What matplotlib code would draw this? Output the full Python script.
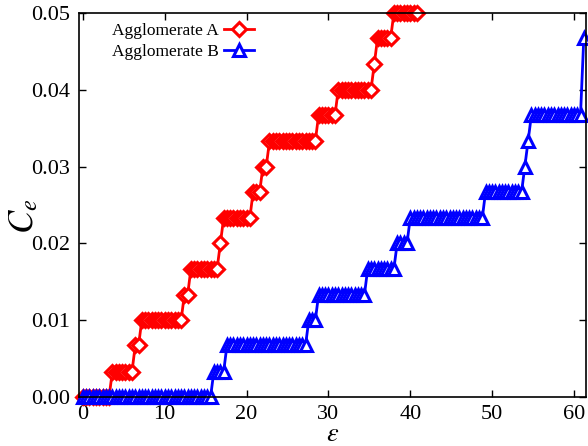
import matplotlib
matplotlib.use("Agg")
import matplotlib.pyplot as plt
import numpy as np

plt.rcParams['font.family'] = ['Liberation Serif', 'DejaVu Serif']
plt.rcParams['mathtext.fontset'] = 'stix'

# strain sampling step
eps_step = 0.4

# Agglomerate A: Ce level of each plateau and number of samples on it
a_levels = [0.0000, 0.0033, 0.0067, 0.0100, 0.0133, 0.0167, 0.0200, 0.0233,
            0.0267, 0.0300, 0.0333, 0.0367, 0.0400, 0.0433, 0.0467, 0.0500]
a_counts = [9, 7, 2, 13, 2, 9, 1, 9, 3, 2, 15, 6, 11, 1, 5, 8]

# Agglomerate B
b_levels = [0.0000, 0.0033, 0.0067, 0.0100, 0.0133, 0.0167, 0.0200, 0.0233,
            0.0267, 0.0300, 0.0333, 0.0367, 0.0467]
b_counts = [40, 4, 25, 3, 15, 9, 4, 23, 12, 1, 1, 16, 1]

ce_a = np.repeat(a_levels, a_counts)
ce_b = np.repeat(b_levels, b_counts)
eps_a = np.arange(len(ce_a)) * eps_step
eps_b = np.arange(len(ce_b)) * eps_step

fig = plt.figure(figsize=(5.88, 4.46), dpi=100)
ax = fig.add_axes([0.134, 0.110, 0.863, 0.861])

ax.plot(eps_a, ce_a, color='red', lw=2, marker='D', ms=7.5, mew=2.2,
        mfc='white', mec='red', clip_on=False, label='Agglomerate A')
ax.plot(eps_b, ce_b, color='blue', lw=2, marker='^', ms=9, mew=2.2,
        mfc='white', mec='blue', clip_on=False, label='Agglomerate B')

ax.set_xlim(-0.5, 61.5)
ax.set_ylim(0, 0.05)
ax.set_xticks([0, 10, 20, 30, 40, 50, 60])
ax.set_yticks([0, 0.01, 0.02, 0.03, 0.04, 0.05])
ax.set_yticklabels(['0.00', '0.01', '0.02', '0.03', '0.04', '0.05'])
ax.tick_params(direction='in', top=True, right=True, length=5, width=1,
               labelsize=16, pad=6)
for s in ax.spines.values():
    s.set_linewidth(1.2)

ax.set_xlabel(r'$\varepsilon$', fontsize=19)
ax.set_ylabel(r'$C_e$', fontsize=25)
ax.xaxis.set_label_coords(0.5, -0.07)
ax.yaxis.set_label_coords(-0.075, 0.47)

ax.legend(loc='upper left', bbox_to_anchor=(0.035, 1.015), frameon=False,
          markerfirst=False, numpoints=1, fontsize=12.5, handlelength=1.7,
          handletextpad=0.3, labelspacing=0.3)

fig.savefig('out.png', dpi=100)
